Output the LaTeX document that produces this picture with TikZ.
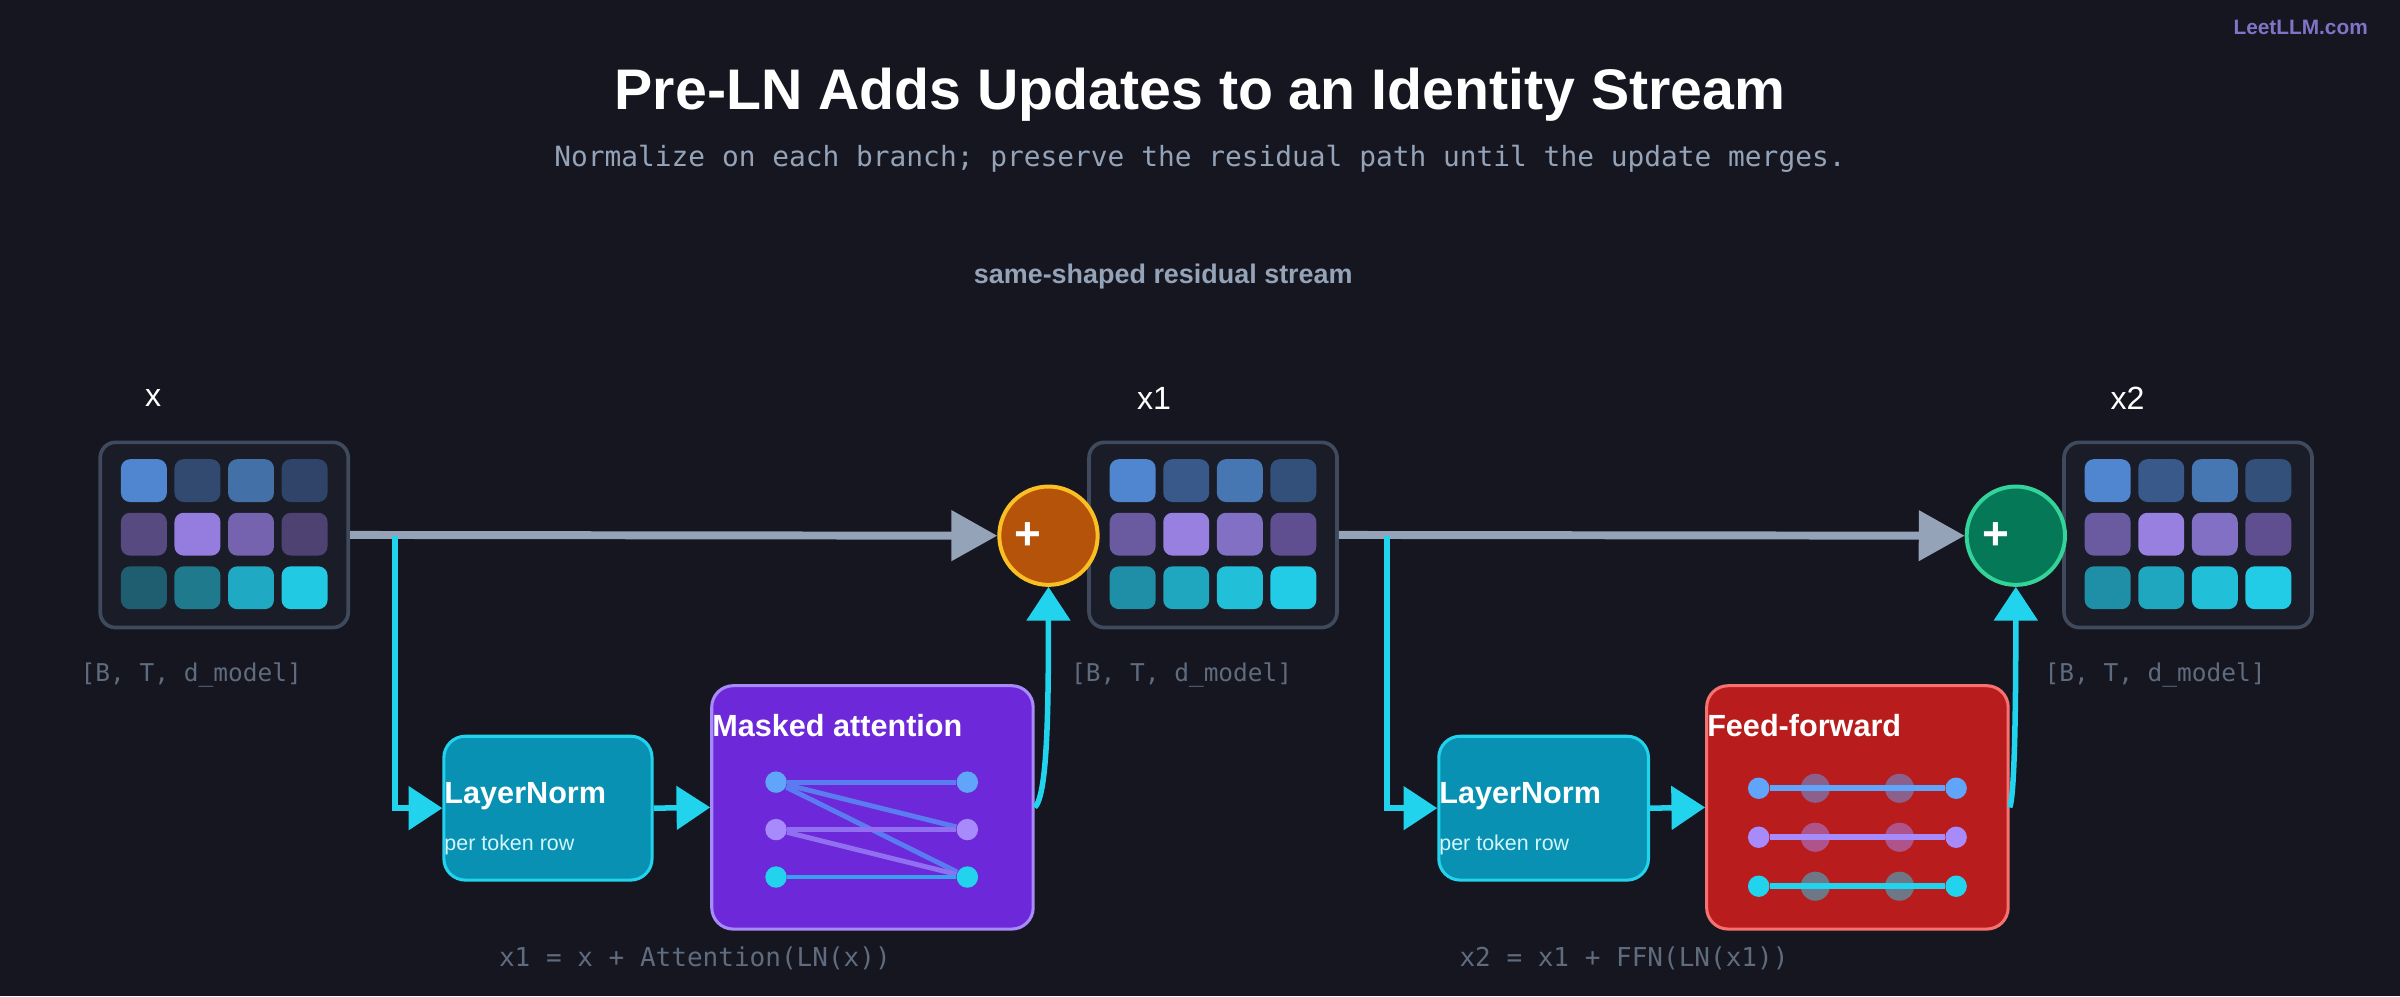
\documentclass[tikz,border=0pt]{standalone}
\usepackage{fontspec}
\setmainfont{Liberation Sans}
\setsansfont{Liberation Sans}
\setmonofont{DejaVu Sans Mono}
\usetikzlibrary{arrows.meta}
\definecolor{bg}{HTML}{15161F}
\definecolor{slate}{HTML}{94A3B8}
\definecolor{dim}{HTML}{5F6B7E}
\definecolor{cyanc}{HTML}{22D3EE}
\definecolor{lnfill}{HTML}{0891B2}
\definecolor{mbox}{HTML}{3F4A5C}
\definecolor{mfill}{HTML}{1A1D28}
\definecolor{bl}{HTML}{60A5FA}
\definecolor{vi}{HTML}{A78BFA}
\definecolor{brandc}{HTML}{8073C8}
\definecolor{orF}{HTML}{B45309}\definecolor{orD}{HTML}{FBBF24}
\definecolor{grF}{HTML}{047857}\definecolor{grD}{HTML}{34D399}
\definecolor{atF}{HTML}{6D28D9}
\definecolor{ffF}{HTML}{B91C1C}\definecolor{ffD}{HTML}{F87171}
\definecolor{e1}{HTML}{5B7CF0}\definecolor{e2}{HTML}{9070F0}\definecolor{e3}{HTML}{3AA0EE}
\begin{document}
\begin{tikzpicture}[x=0.5pt,y=-0.5pt,
  mat/.style={draw=mbox,line width=1.2pt,fill=mfill,rounded corners=5pt},
  cell/.style={rounded corners=3pt},
  dimlab/.style={font=\ttfamily\fontsize{8}{9}\selectfont,text=dim},
  eq/.style={font=\ttfamily\fontsize{8.5}{10}\selectfont,text=dim},
  vlab/.style={font=\fontsize{10.5}{12}\selectfont,text=white},
  lnbox/.style={draw=cyanc,fill=lnfill,line width=1pt,rounded corners=7pt},
  branch/.style={draw=cyanc,line width=1.8pt},
  carrow/.style={branch,-{Triangle[length=11pt,width=14pt]}},
  garrow/.style={draw=slate,line width=2.6pt,-{Triangle[length=15pt,width=16pt]}},
  btitle/.style={font=\bfseries\fontsize{10}{11}\selectfont,text=white,anchor=west,inner sep=0pt},
  bsub/.style={font=\fontsize{7}{8}\selectfont,text=white!80!cyanc,anchor=west,inner sep=0pt},
  dot/.style={circle,inner sep=0pt,minimum size=7pt},
  plus/.style={circle,line width=1.3pt,minimum size=31pt,inner sep=0pt,text width=22pt,align=left,inner xsep=4.5pt,font=\bfseries\fontsize{15}{15}\selectfont,text=white}
]
\fill[bg] (0,0) rectangle (1568,651);
\node[font=\bfseries\fontsize{18.7}{22}\selectfont,text=white] (title) at (784,62) {Pre-LN Adds Updates to an Identity Stream};
\node[font=\ttfamily\fontsize{9.1}{10}\selectfont,text=slate] (sub) at (784,104) {Normalize on each branch; preserve the residual path until the update merges.};
\node[font=\bfseries\fontsize{8.8}{10}\selectfont,text=slate] (stream) at (760,181) {same-shaped residual stream};
\node[font=\bfseries\fontsize{6.8}{8}\selectfont,text=brandc,anchor=east] (brand) at (1554,18) {LeetLLM.com};
% vector labels
\node[vlab] (lx) at (100,260) {x};
\node[vlab] (lx1) at (754,260) {x1};
\node[vlab] (lx2) at (1390,260) {x2};
% matrices
\newcommand{\mymatrix}[4]{%
  \node[mat,minimum width=81pt,minimum height=60.5pt,inner sep=0pt] (#1) at (#2+81.5,349.5) {};
  \foreach \c [count=\i from 0] in {#3} {
    \pgfmathtruncatemacro{\col}{mod(\i,4)}
    \pgfmathtruncatemacro{\row}{div(\i,4)}
    \fill[cell,fill=\c] (#2+14+35*\col,300+35*\row) rectangle ++(30,28);
  }}
\definecolor{a1}{HTML}{4F86CF}\definecolor{a2}{HTML}{334A70}\definecolor{a3}{HTML}{4470A8}\definecolor{a4}{HTML}{2F4468}
\definecolor{a5}{HTML}{574A80}\definecolor{a6}{HTML}{957DDF}\definecolor{a7}{HTML}{7563B0}\definecolor{a8}{HTML}{4E4272}
\definecolor{a9}{HTML}{1F5E70}\definecolor{a10}{HTML}{1E7A8C}\definecolor{a11}{HTML}{20A9C2}\definecolor{a12}{HTML}{22C9E2}
\definecolor{b1}{HTML}{4F86CF}\definecolor{b2}{HTML}{38598A}\definecolor{b3}{HTML}{4677B3}\definecolor{b4}{HTML}{33507A}
\definecolor{b5}{HTML}{6A5AA0}\definecolor{b6}{HTML}{9880E0}\definecolor{b7}{HTML}{8270C4}\definecolor{b8}{HTML}{5F4F90}
\definecolor{b9}{HTML}{1E8FA6}\definecolor{b10}{HTML}{20A7C0}\definecolor{b11}{HTML}{22BFD9}\definecolor{b12}{HTML}{22CBE6}
\mymatrix{m0}{65}{a1,a2,a3,a4,a5,a6,a7,a8,a9,a10,a11,a12}{}
\mymatrix{m1}{711}{b1,b2,b3,b4,b5,b6,b7,b8,b9,b10,b11,b12}{}
\mymatrix{m2}{1348}{b1,b2,b3,b4,b5,b6,b7,b8,b9,b10,b11,b12}{}
\node[dimlab] (d0) at (125,441) {[B, T, d\_model]};
\node[dimlab] (d1) at (772,441) {[B, T, d\_model]};
\node[dimlab] (d2) at (1408,441) {[B, T, d\_model]};
% plus nodes
\node[plus,fill=orF,draw=orD] (p1) at (685,350) {+};
\node[plus,fill=grF,draw=grD] (p2) at (1317,350) {+};
% main stream
\draw[garrow] (m0.east) -- (p1.west);
\draw[garrow] (m1.east) -- (p2.west);
% branch boxes
\node[lnbox,minimum width=68pt,minimum height=47pt,inner sep=0pt] (ln1) at (358,528) {};
\node[btitle] at (290,520) {LayerNorm};
\node[bsub] at (290,552) {per token row};
\node[draw=vi,fill=atF,line width=1pt,rounded corners=7pt,minimum width=105pt,minimum height=79.5pt,inner sep=0pt] (att) at (570,527.5) {};
\node[btitle] at (465,474) {Masked attention};
\node[lnbox,minimum width=68.5pt,minimum height=47pt,inner sep=0pt] (ln2) at (1008.5,528) {};
\node[btitle] at (940,520) {LayerNorm};
\node[bsub] at (940,552) {per token row};
\node[draw=ffD,fill=ffF,line width=1pt,rounded corners=7pt,minimum width=98.5pt,minimum height=79.5pt,inner sep=0pt] (ff) at (1213.5,527.5) {};
\node[btitle] at (1115,474) {Feed-forward};
% branches
\coordinate (s1) at (258,350);
\coordinate (s2) at (906,350);
\draw[carrow] (s1) |- (ln1.west);
\draw[carrow] (ln1.east) -- (att.west);
\draw[carrow] (s2) |- (ln2.west);
\draw[carrow] (ln2.east) -- (ff.west);
\draw[carrow] (att.east) .. controls (684,520) and (685,470) .. (p1.south);
\draw[carrow] (ff.east) .. controls (1316,520) and (1317,470) .. (p2.south);
% attention graph
\node[dot,fill=bl] (aL1) at (507,511) {};
\node[dot,fill=vi] (aL2) at (507,542) {};
\node[dot,fill=cyanc] (aL3) at (507,573) {};
\node[dot,fill=bl] (aR1) at (632,511) {};
\node[dot,fill=vi] (aR2) at (632,542) {};
\node[dot,fill=cyanc] (aR3) at (632,573) {};
\begin{scope}[line width=1.6pt]
\draw[e1] (aL1) -- (aR1);
\draw[e1] (aL1) -- (aR2);
\draw[e1] (aL1) -- (aR3);
\draw[e2] (aL2) -- (aR2);
\draw[e2] (aL2) -- (aR3);
\draw[e3] (aL3) -- (aR3);
\end{scope}
% ffn graph
\foreach \y/\c [count=\k] in {515/bl,547/vi,579/cyanc}{
  \node[dot,fill=\c] (fL\k) at (1149,\y) {};
  \node[dot,fill=\c] (fR\k) at (1278,\y) {};
  \draw[\c,line width=2pt] (fL\k) -- (fR\k);
  \node[dot,minimum size=9.5pt,fill=\c,fill opacity=0.5] (fA\k) at (1186,\y) {};
  \node[dot,minimum size=9.5pt,fill=\c,fill opacity=0.5] (fB\k) at (1241,\y) {};
}
\node[eq] (e1n) at (454,626) {x1 = x + Attention(LN(x))};
\node[eq] (e2n) at (1061,626) {x2 = x1 + FFN(LN(x1))};
\end{tikzpicture}
\end{document}
